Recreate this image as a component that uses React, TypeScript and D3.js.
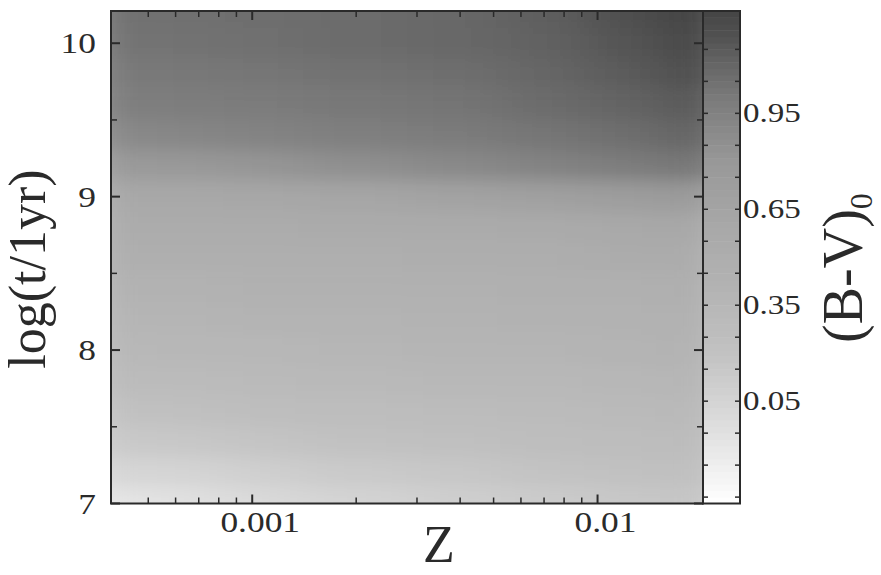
import * as d3 from 'd3';

// metallicity columns and age rows of the (B-V)0 grid
const zValues = [0.0004, 0.0007, 0.001, 0.002, 0.004, 0.007, 0.012, 0.02];
const ageValues = [10.2, 10.0, 9.8, 9.6, 9.4, 9.2, 9.0, 8.8, 8.6, 8.4, 8.2, 8.0, 7.8, 7.6, 7.4, 7.2, 7.0];
const bvRows = [
  [1.04, 1.05, 1.06, 1.07, 1.09, 1.13, 1.2, 1.28],
  [1.03, 1.04, 1.05, 1.07, 1.09, 1.12, 1.18, 1.26],
  [1.0, 1.01, 1.02, 1.04, 1.06, 1.1, 1.15, 1.22],
  [0.97, 0.98, 0.99, 1.01, 1.03, 1.07, 1.11, 1.16],
  [0.9, 0.92, 0.94, 0.97, 0.99, 1.02, 1.06, 1.11],
  [0.77, 0.79, 0.82, 0.86, 0.9, 0.94, 0.98, 1.02],
  [0.6, 0.6, 0.61, 0.63, 0.66, 0.7, 0.74, 0.77],
  [0.52, 0.52, 0.53, 0.54, 0.55, 0.57, 0.59, 0.61],
  [0.47, 0.47, 0.48, 0.48, 0.49, 0.5, 0.52, 0.53],
  [0.42, 0.42, 0.43, 0.43, 0.44, 0.45, 0.46, 0.47],
  [0.38, 0.38, 0.39, 0.39, 0.4, 0.41, 0.42, 0.43],
  [0.34, 0.35, 0.35, 0.36, 0.37, 0.38, 0.39, 0.4],
  [0.29, 0.3, 0.31, 0.32, 0.33, 0.34, 0.35, 0.36],
  [0.22, 0.23, 0.25, 0.27, 0.28, 0.3, 0.31, 0.32],
  [0.14, 0.16, 0.18, 0.21, 0.23, 0.25, 0.27, 0.28],
  [0.03, 0.05, 0.09, 0.13, 0.16, 0.19, 0.21, 0.23],
  [-0.08, -0.05, 0.0, 0.05, 0.09, 0.12, 0.15, 0.17],
];

const yTicks = [7, 8, 9, 10];
const yMinor = [7.5, 8.5, 9.5];
const xTicks = [0.001, 0.01];
const xMinor = [0.0005, 0.0006, 0.0007, 0.0008, 0.0009, 0.002, 0.003, 0.004, 0.005, 0.006, 0.007, 0.008, 0.009];
const barLabels = [0.05, 0.35, 0.65, 0.95];
const barTicks = [-0.25, -0.15, -0.05, 0.15, 0.25, 0.45, 0.55, 0.75, 0.85, 1.05, 1.15];

// gray level of the print for a given (B-V)0
const grayStops = [-0.27, 0.0, 0.2, 0.4, 0.6, 0.8, 1.0, 1.1, 1.2, 1.3];
const grayLevels = [255, 218, 194, 179, 168, 152, 122, 102, 80, 64];

const W = 881;
const H = 575;
const left = 111;
const right = 703;
const top = 11;
const bottom = 503.5;
const barRight = 740;

const ink = '#2a2a2a';
const serif = "'Liberation Serif', 'Times New Roman', Times, serif";

const x = d3.scaleLog().domain([0.00039, 0.0202]).range([left, right]);
const y = d3.scaleLinear().domain([7, 10.21]).range([bottom, top]);
const cb = d3.scaleLinear().domain([-0.27, 1.27]).range([bottom, top]);
const grayScale = d3.scaleLinear<number>().domain(grayStops).range(grayLevels).clamp(true);
const fill = (v: number) => {
  const g = Math.round(grayScale(v));
  return `rgb(${g},${g},${g})`;
};

// cell edges halfway between grid points (geometric for Z), edge cells pushed past the frame
const zEdges = zValues.map((z, i) => {
  const lo = i === 0 ? left - 40 : x(Math.sqrt(zValues[i - 1] * z));
  const hi = i === zValues.length - 1 ? right + 40 : x(Math.sqrt(zValues[i + 1] * z));
  return [lo, hi];
});
const ageEdges = ageValues.map((a, i) => {
  const hi = i === 0 ? top - 40 : y((ageValues[i - 1] + a) / 2);
  const lo = i === ageValues.length - 1 ? bottom + 40 : y((ageValues[i + 1] + a) / 2);
  return [hi, lo];
});

const barBands = d3.range(-0.27, 1.27, 0.02);

function Stretched({ tx, ty, size, anchor, children }: any) {
  return (
    <text
      transform={`translate(${tx},${ty}) scale(1.18,1)`}
      fontFamily={serif}
      fontSize={size}
      fill={ink}
      textAnchor={anchor}
    >
      {children}
    </text>
  );
}

export default function App() {
  return (
    <svg
      width={W}
      height={H}
      style={{ position: 'absolute', left: 0, top: 0, background: '#fff' }}
    >
      <defs>
        <clipPath id="plotClip">
          <rect x={left} y={top} width={right - left} height={bottom - top} />
        </clipPath>
        <filter id="soft" x="-10%" y="-10%" width="120%" height="120%">
          <feGaussianBlur stdDeviation="28 9" />
        </filter>
      </defs>

      {/* heat map */}
      <g clipPath="url(#plotClip)">
        <g filter="url(#soft)">
          {bvRows.map((row, r) =>
            row.map((v, c) => (
              <rect
                key={`${r}-${c}`}
                x={zEdges[c][0]}
                y={ageEdges[r][0]}
                width={zEdges[c][1] - zEdges[c][0] + 0.5}
                height={ageEdges[r][1] - ageEdges[r][0] + 0.5}
                fill={fill(v)}
              />
            ))
          )}
        </g>
      </g>

      {/* colour bar */}
      {barBands.map((v) => (
        <rect
          key={v}
          x={right}
          y={cb(Math.min(v + 0.02, 1.27))}
          width={barRight - right}
          height={cb(v) - cb(Math.min(v + 0.02, 1.27)) + 0.5}
          fill={fill(v + 0.01)}
        />
      ))}

      {/* frames */}
      <rect x={left} y={top} width={right - left} height={bottom - top} fill="none" stroke={ink} strokeWidth={2} />
      <rect x={right} y={top} width={barRight - right} height={bottom - top} fill="none" stroke={ink} strokeWidth={2} />

      {/* y ticks, both sides */}
      {yTicks.map((t) => (
        <g key={t}>
          <line x1={left} x2={left + 9} y1={y(t)} y2={y(t)} stroke={ink} strokeWidth={2} />
          <line x1={right} x2={right - 9} y1={y(t)} y2={y(t)} stroke={ink} strokeWidth={2} />
          <Stretched tx={96} ty={y(t) + 10} size={30} anchor="end">
            {t}
          </Stretched>
        </g>
      ))}
      {yMinor.map((t) => (
        <g key={t}>
          <line x1={left} x2={left + 6} y1={y(t)} y2={y(t)} stroke={ink} strokeWidth={1.5} />
          <line x1={right} x2={right - 6} y1={y(t)} y2={y(t)} stroke={ink} strokeWidth={1.5} />
        </g>
      ))}

      {/* x ticks, both sides */}
      {xTicks.map((t) => (
        <g key={t}>
          <line x1={x(t)} x2={x(t)} y1={bottom} y2={bottom - 9} stroke={ink} strokeWidth={2} />
          <line x1={x(t)} x2={x(t)} y1={top} y2={top + 9} stroke={ink} strokeWidth={2} />
          <Stretched tx={x(t) + 8} ty={532} size={30} anchor="middle">
            {t}
          </Stretched>
        </g>
      ))}
      {xMinor.map((t) => (
        <g key={t}>
          <line x1={x(t)} x2={x(t)} y1={bottom} y2={bottom - 6} stroke={ink} strokeWidth={1.5} />
          <line x1={x(t)} x2={x(t)} y1={top} y2={top + 6} stroke={ink} strokeWidth={1.5} />
        </g>
      ))}

      {/* colour bar ticks and labels */}
      {barLabels.concat(barTicks).map((v) => (
        <g key={`cb${v}`}>
          <line x1={right} x2={right + 5} y1={cb(v)} y2={cb(v)} stroke={ink} strokeWidth={1.5} />
          <line x1={barRight} x2={barRight - 5} y1={cb(v)} y2={cb(v)} stroke={ink} strokeWidth={1.5} />
        </g>
      ))}
      {barLabels.map((v) => (
        <Stretched key={`l${v}`} tx={743} ty={cb(v) + 9} size={28} anchor="start">
          {v.toFixed(2)}
        </Stretched>
      ))}

      {/* axis titles */}
      <text
        transform="translate(45,269) rotate(-90)"
        fontFamily={serif}
        fontSize={52}
        fill={ink}
        textAnchor="middle"
      >
        log(t/1yr)
      </text>
      <text x={439} y={562} fontFamily={serif} fontSize={52} fill={ink} textAnchor="middle">
        Z
      </text>
      <text
        transform="translate(862,268) rotate(-90)"
        fontFamily={serif}
        fontSize={56}
        fill={ink}
        textAnchor="middle"
      >
        (B-V)
        <tspan fontSize={32} dy={10}>
          0
        </tspan>
      </text>
    </svg>
  );
}
